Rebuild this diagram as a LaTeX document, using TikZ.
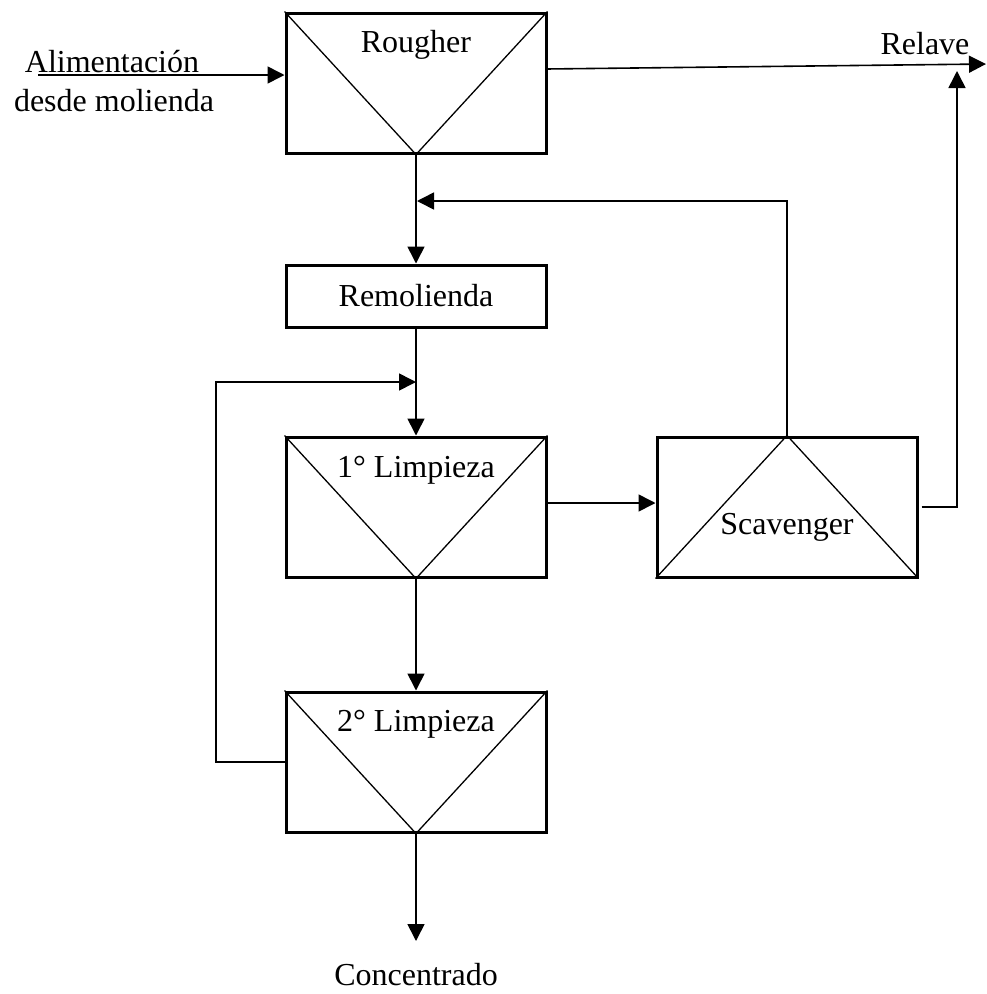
\documentclass[tikz,border=0pt]{standalone}
\usepackage{fontspec}
\setmainfont{Liberation Serif}
\usetikzlibrary{arrows.meta}
\begin{document}
\begin{tikzpicture}[x=1pt,y=-1pt,
  unitbox/.style={draw,line width=3pt,minimum width=260pt,minimum height=140pt,inner sep=0pt},
  diag/.style={line width=1.3pt},
  conn/.style={line width=1.6pt},
  arr/.style={conn,-{Triangle[length=17pt,width=17pt]}},
  lbl/.style={font=\fontsize{32}{36}\selectfont,inner sep=0pt}]
\useasboundingbox (0,0) rectangle (986,994);
% boxes
\node[unitbox] (rougher) at (416,83) {};
\node[unitbox,minimum height=62pt] (remol) at (416,296) {};
\node[unitbox] (limp1) at (416,507) {};
\node[unitbox] (scav) at (787,507) {};
\node[unitbox] (limp2) at (416,762) {};
% internal diagonals
\draw[diag] (rougher.north west) -- (rougher.south) -- (rougher.north east);
\draw[diag] (limp1.north west) -- (limp1.south) -- (limp1.north east);
\draw[diag] (limp2.north west) -- (limp2.south) -- (limp2.north east);
\draw[diag] (scav.south west) -- (scav.north) -- (scav.south east);
% labels
\node[lbl] (trough) at (416,45) {Rougher};
\node[lbl] (tremol) at (416,296) {Remolienda};
\node[lbl] (tlimp1) at (416,470) {1° Limpieza};
\node[lbl] (tlimp2) at (416,724) {2° Limpieza};
\node[lbl] (tscav) at (787,527) {Scavenger};
\node[lbl] (tfeed1) at (112,62) {Alimentación};
\node[lbl] (tfeed2) at (114,101) {desde molienda};
\node[lbl] (trelave) at (925,44) {Relave};
\node[lbl] (tconc) at (416,975) {Concentrado};
% coordinates
\coordinate (feedstart) at (38,75);
\coordinate (relstart) at (546,69);
\coordinate (relend) at (986,64);
\coordinate (j1) at (417,201);
\coordinate (j2) at (416,382);
\coordinate (lc) at (216,382);
\coordinate (relup) at (957,71);
\coordinate (concend) at (416,941);
% connectors
\draw[arr] (feedstart) -- (feedstart -| rougher.west);
\draw[arr] (relstart) -- (relend);
\draw[arr] (rougher.south) -- (remol.north);
\draw[arr] (scav.north) |- (j1);
\draw[arr] (remol.south) -- (limp1.north);
\draw[arr] (limp2.west) -| (lc) -- (j2);
\draw[arr] ([yshift=4pt]limp1.east) -- ([yshift=4pt]scav.west);
\draw[arr] ([xshift=3pt]scav.east) -| (relup);
\draw[arr] (limp1.south) -- (limp2.north);
\draw[arr] (limp2.south) -- (concend);
\end{tikzpicture}
\end{document}
